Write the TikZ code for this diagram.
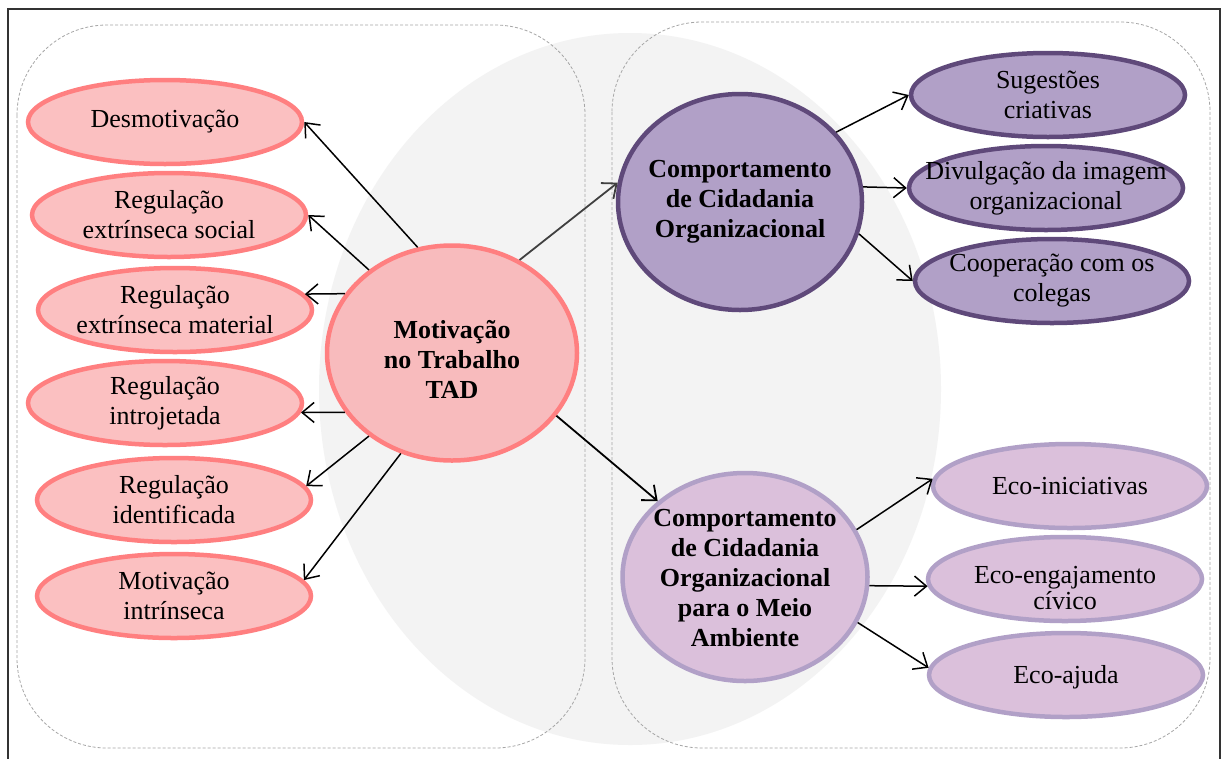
\documentclass[tikz,border=0pt]{standalone}
\usepackage{fontspec}
\setmainfont{Liberation Serif}
\usetikzlibrary{arrows.meta,shapes.geometric}
\definecolor{pinkfill}{HTML}{FBC0C1}
\definecolor{pinkline}{HTML}{FF7F80}
\definecolor{tadfill}{HTML}{F8BBBD}
\definecolor{pdark}{HTML}{5F497A}
\definecolor{pfill}{HTML}{B1A0C7}
\definecolor{lfill}{HTML}{DBC0DB}
\definecolor{lline}{HTML}{B1A0C7}
\definecolor{bggray}{HTML}{F3F3F3}
\definecolor{dashgray}{HTML}{A6A6A6}
\tikzset{
  txt/.style={align=center, inner sep=0pt, font=\fontsize{26}{30}\selectfont},
  btxt/.style={txt, font=\fontsize{26}{30}\selectfont\bfseries},
  base/.style={ellipse, inner sep=0pt, line width=4.5pt},
  leaf/.style={base, minimum width=274pt, minimum height=84pt},
  pinkleaf/.style={leaf, draw=pinkline, fill=pinkfill},
  purpleleaf/.style={leaf, draw=pdark, fill=pfill},
  lilacleaf/.style={leaf, draw=lline, fill=lfill},
  arr/.style={-{Straight Barb[length=12pt,width=20pt]}, line width=1.5pt, black},
  groupbox/.style={draw=dashgray, line width=0.8pt, dash pattern=on 3pt off 2pt, rounded corners=90pt}
}
\begin{document}
\begin{tikzpicture}[x=1pt,y=-1pt]
\useasboundingbox (0,0) rectangle (1222,758);
\clip (0,0) rectangle (1222,758);
\fill[white] (0,0) rectangle (1222,758);
\draw[line width=1.5pt, black!80] (8,9) rectangle (1220,790);
\fill[bggray] (630,389) ellipse [x radius=311, y radius=356];
\draw[groupbox] (17,25) rectangle (585,748);
\draw[groupbox] (612,22) rectangle (1210,748);

% left group
\node[pinkleaf, label={[txt]center:Desmotivação}] (e1) at (165,122) {};
\node[pinkleaf, label={[txt]center:{Regulação\\extrínseca social}}] (e2) at (169,215) {};
\node[pinkleaf, label={[txt]center:{Regulação\\extrínseca material}}] (e3) at (175,310) {};
\node[pinkleaf, label={[txt]center:{Regulação\\introjetada}}] (e4) at (165,403) {};
\node[pinkleaf, label={[txt]center:{Regulação\\identificada}}] (e5) at (174,500) {};
\node[pinkleaf, label={[txt]center:{Motivação\\intrínseca}}] (e6) at (174,596) {};

\node[base, draw=pinkline, fill=tadfill, minimum width=250pt, minimum height=215pt,
  label={[btxt,yshift=-6pt]center:{Motivação\\no Trabalho\\TAD}}] (tad) at (452,353) {};

% right group
\node[base, draw=pdark, fill=pfill, minimum width=244pt, minimum height=216pt,
  label={[btxt]center:{Comportamento\\de Cidadania\\Organizacional}}] (cco) at (740,202) {};
\node[base, draw=lline, fill=lfill, minimum width=245pt, minimum height=208pt,
  label={[btxt,yshift=-1pt]center:{Comportamento\\de Cidadania\\Organizacional\\para o Meio\\Ambiente}}] (ccm) at (745,577) {};

\node[purpleleaf, label={[txt]center:{Sugestões\\criativas}}] (s1) at (1048,95) {};
\node[purpleleaf, label={[txt]center:{Divulgação da imagem\\organizacional}}] (s2) at (1046,188) {};
\node[purpleleaf, label={[txt]center:{Cooperação com os\\colegas}}] (s3) at (1052,281) {};

\node[lilacleaf, label={[txt]center:Eco-iniciativas}] (c1) at (1070,486) {};
\node[lilacleaf, label={[txt,yshift=-9pt]center:{Eco-engajamento\\[-4pt]cívico}}] (c2) at (1065,579) {};
\node[lilacleaf, label={[txt,yshift=-2pt]center:Eco-ajuda}] (c3) at (1066,675) {};

% connectors
\draw[arr] (tad.108) -- (e1.east);
\draw[arr] (tad.135) -- (e2.east);
\draw[arr] (tad.151) -- (e3.7);
\draw[arr] (tad.209) -- (e4.-4);
\draw[arr] (tad.225) -- (e5.6);
\draw[arr] (tad.243) -- (e6.7);
\draw[arr, line width=1.8pt, black!75] (tad.54) -- (cco.171);
\draw[arr, line width=1.8pt] (tad.329) -- (ccm.139);
\draw[arr] (cco.36) -- (s1.west);
\draw[arr] (cco.7) -- (s2.west);
\draw[arr] (cco.-15) -- (s3.west);
\draw[arr] (ccm.23) -- (c1.177);
\draw[arr] (ccm.-4) -- (c2.183);
\draw[arr] (ccm.-22) -- (c3.177);
\end{tikzpicture}
\end{document}
